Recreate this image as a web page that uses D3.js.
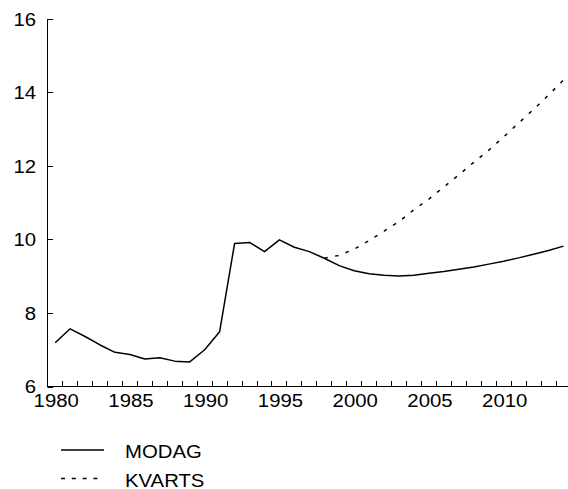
<!DOCTYPE html>
<html>
<head>
<meta charset="utf-8">
<script src="https://cdn.jsdelivr.net/npm/d3@7"></script>
<style>
  html, body { margin: 0; padding: 0; background: #fff; }
  svg { display: block; }
  text { font-family: "Liberation Sans", Arial, sans-serif; fill: #000; }
</style>
</head>
<body>
<svg id="chart" width="568" height="489"></svg>
<script>
const years = d3.range(1980, 2015);
const modag = [7.19, 7.57, 7.36, 7.13, 6.93, 6.87, 6.75, 6.78, 6.69, 6.67,
               7.00, 7.49, 9.89, 9.92, 9.67, 9.99, 9.79, 9.67, 9.49, 9.29,
               9.15, 9.07, 9.03, 9.01, 9.03, 9.08, 9.13, 9.19, 9.25, 9.33,
               9.41, 9.50, 9.60, 9.70, 9.82];
const kvartsYears = d3.range(1998, 2015);
const kvarts = [9.49, 9.57, 9.74, 9.97, 10.23, 10.49, 10.81, 11.10, 11.43, 11.76,
                12.10, 12.43, 12.79, 13.17, 13.54, 13.93, 14.34];
const yTicks = [6, 8, 10, 12, 14, 16];
const xLabels = [1980, 1985, 1990, 1995, 2000, 2005, 2010];
const seriesNames = ["MODAG", "KVARTS"];

const svg = d3.select("#chart");
const x0 = 47.7, step = 14.95;
const x = d3.scaleLinear().domain([1979.5, 2014.5]).range([x0, x0 + 35 * step]);
const y = d3.scaleLinear().domain([6, 16]).range([386.5, 19]);
const sx = 1.07;
const fs = 19;

// axes lines
const axisG = svg.append("g").attr("stroke", "#000").attr("stroke-width", 1).attr("fill", "none");
axisG.append("line").attr("x1", 47.5).attr("x2", 47.5).attr("y1", y(16)).attr("y2", y(6) + 0.5);
axisG.append("line").attr("x1", 47.5).attr("x2", 580).attr("y1", 386.5).attr("y2", 386.5);
// y ticks (inward)
yTicks.forEach(v => {
  const yy = Math.round(y(v)) + 0.5;
  axisG.append("line").attr("x1", 47.5).attr("x2", 53).attr("y1", yy).attr("y2", yy);
});
// x ticks at year boundaries (inward)
d3.range(1980, 2016).forEach(yr => {
  const xx = Math.round(x(yr - 0.5) - 0.5) + 0.5;
  axisG.append("line").attr("x1", xx).attr("x2", xx).attr("y1", 386.5).attr("y2", 381);
});

// tick labels
yTicks.forEach(v => {
  svg.append("text")
    .attr("transform", `translate(36,${y(v)}) scale(${sx},1)`)
    .attr("text-anchor", "end").attr("dominant-baseline", "central")
    .attr("font-size", fs).text(v);
});
xLabels.forEach(yr => {
  svg.append("text")
    .attr("transform", `translate(${x(yr) + 1},407) scale(${sx},1)`)
    .attr("text-anchor", "middle")
    .attr("font-size", fs).text(yr);
});

// lines
const line = d3.line().x(d => x(d[0])).y(d => y(d[1]));
svg.append("path")
  .datum(kvartsYears.map((yr, i) => [yr, kvarts[i]]))
  .attr("d", line).attr("fill", "none").attr("stroke", "#000")
  .attr("stroke-width", 1.5).attr("stroke-dasharray", "3.5,7.5");
svg.append("path")
  .datum(years.map((yr, i) => [yr, modag[i]]))
  .attr("d", line).attr("fill", "none").attr("stroke", "#000")
  .attr("stroke-width", 1.5).attr("stroke-linejoin", "round");

// legend
const legend = svg.append("g");
seriesNames.forEach((name, i) => {
  const ly = 450 + i * 28.5;
  legend.append("line").attr("x1", 61).attr("x2", 104).attr("y1", ly).attr("y2", ly)
    .attr("stroke", "#000").attr("stroke-width", 1.3)
    .attr("stroke-dasharray", i === 1 ? "4,6.8" : null);
  legend.append("text")
    .attr("transform", `translate(125,${ly + 8}) scale(${sx},1)`)
    .attr("font-size", fs).text(name);
});
</script>
</body>
</html>
